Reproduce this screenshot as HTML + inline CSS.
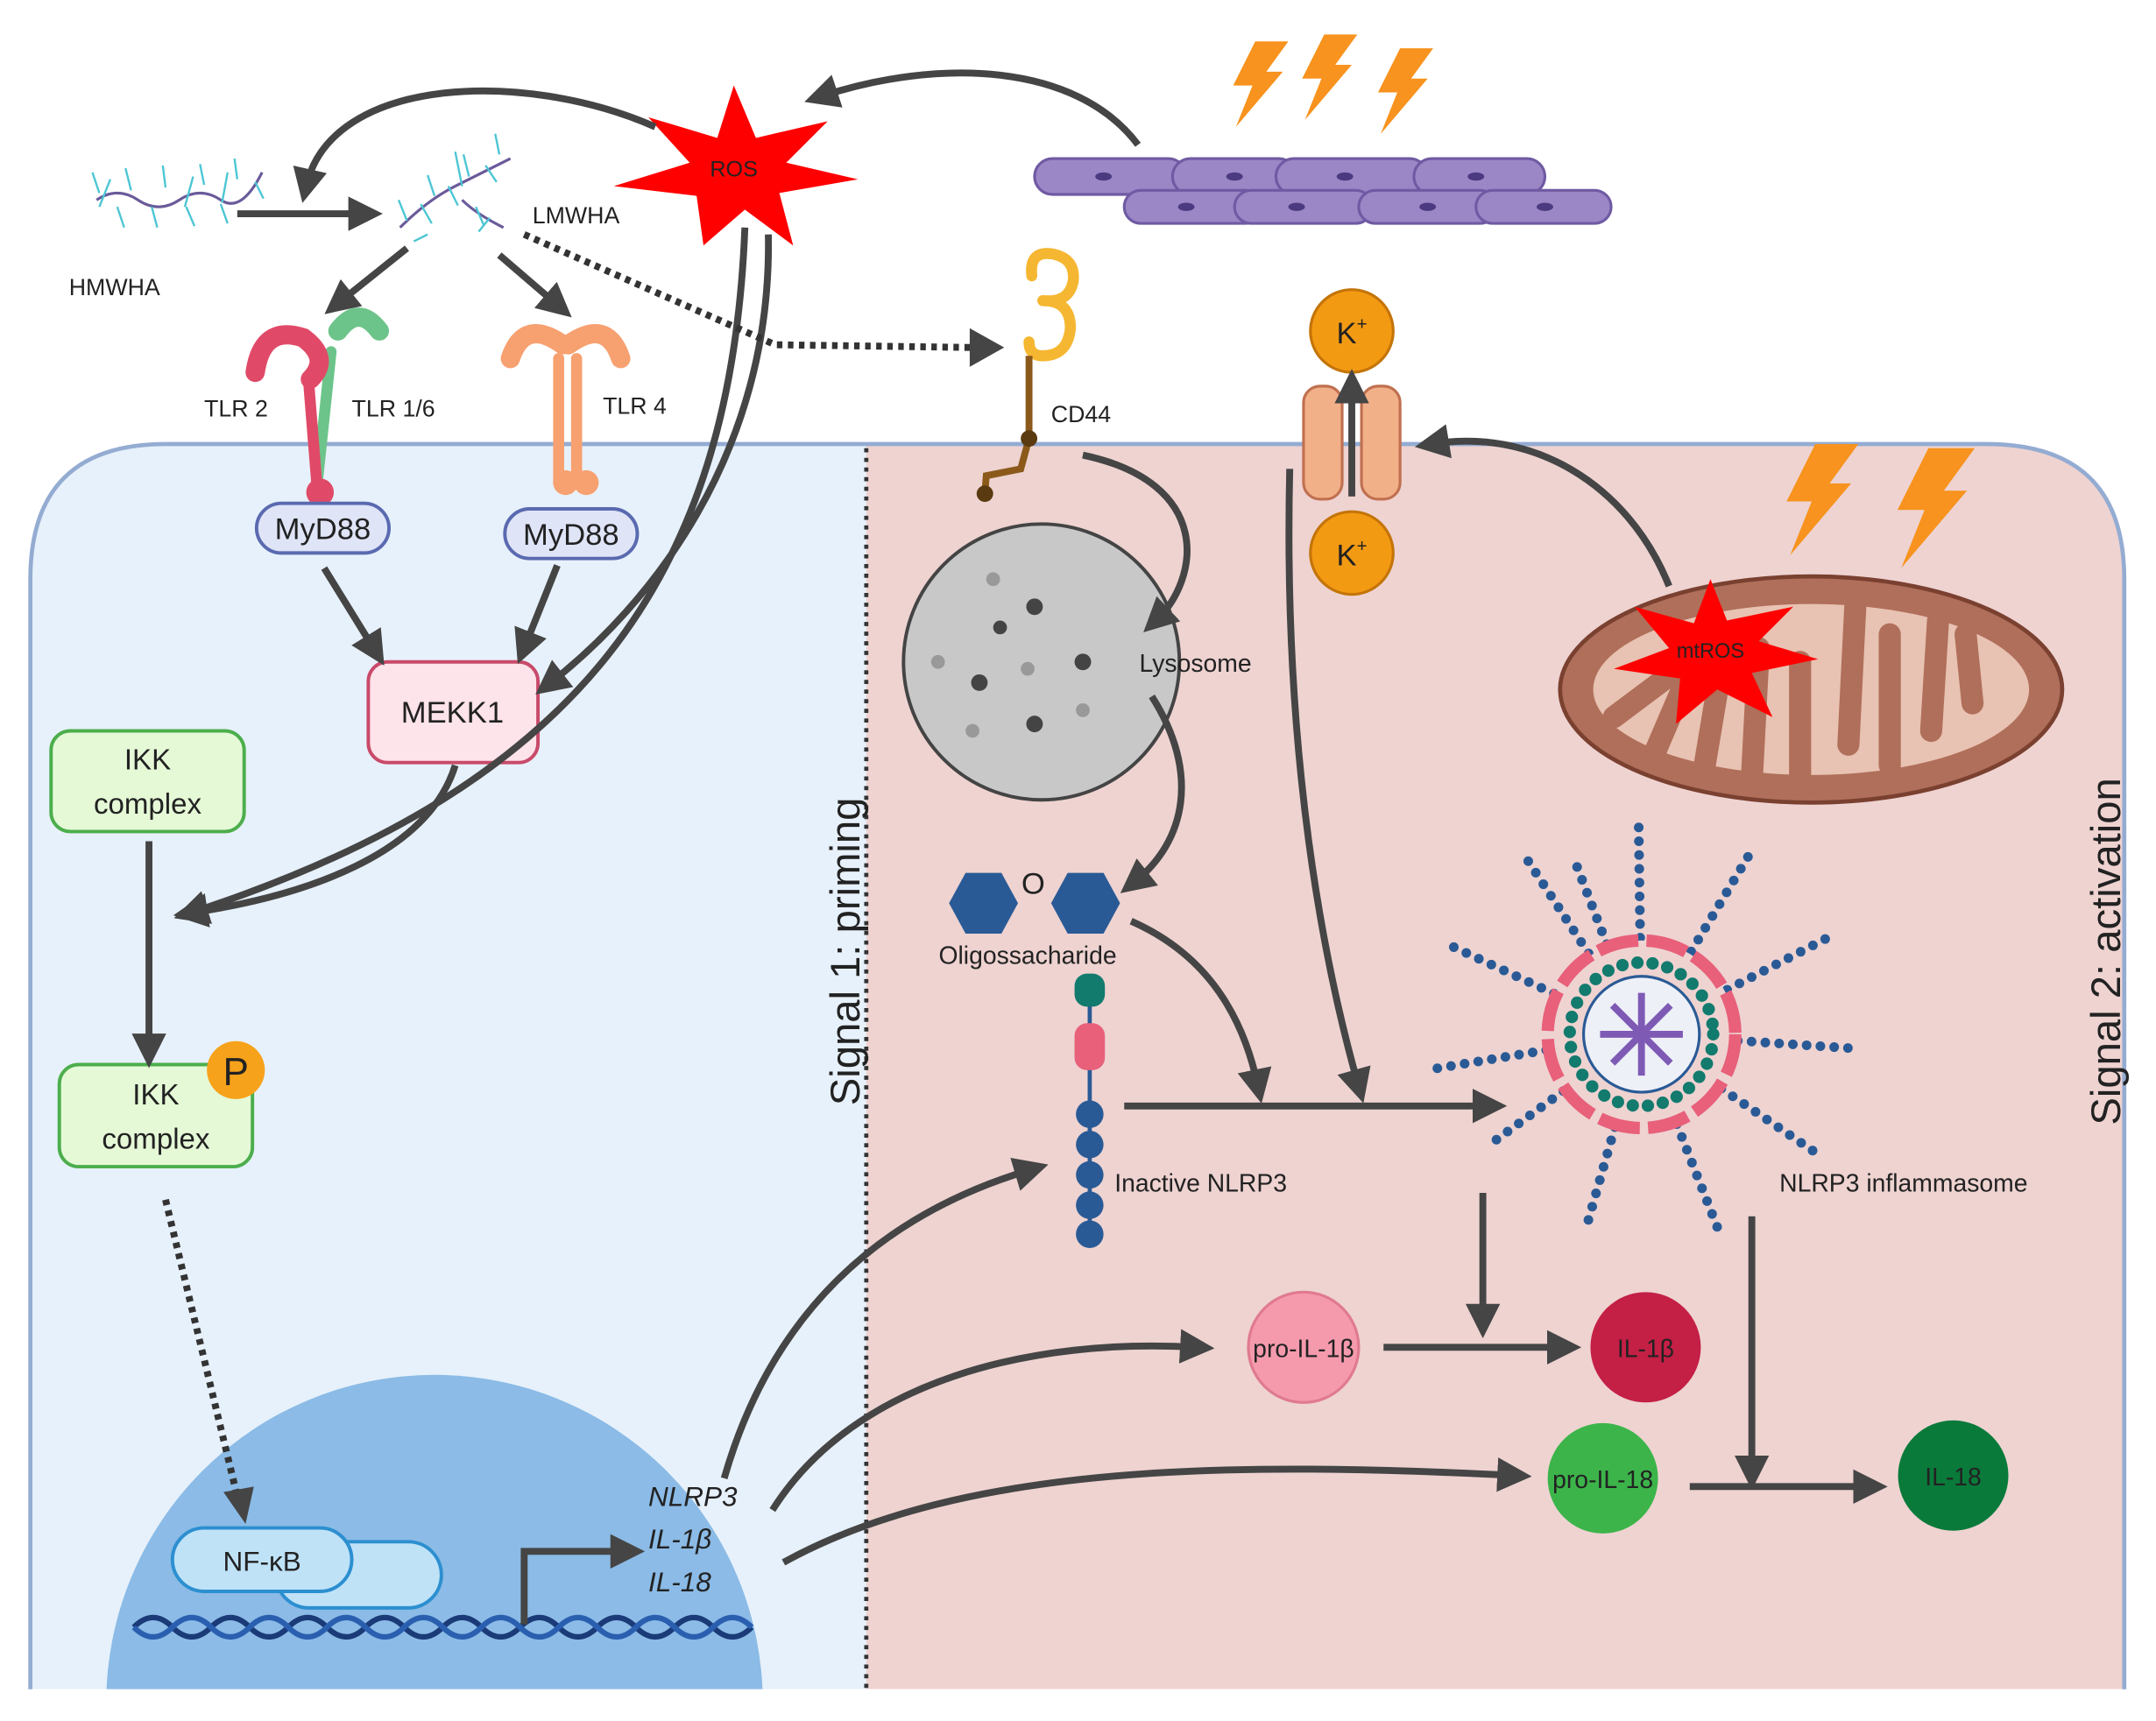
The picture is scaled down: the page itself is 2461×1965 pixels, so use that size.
<!DOCTYPE html>
<html><head><meta charset="utf-8"><style>
html,body{margin:0;padding:0;background:#fff;width:2461px;height:1965px;overflow:hidden}
svg{display:block}
text{font-family:"Liberation Sans",sans-serif;fill:#222}
</style></head><body>
<svg width="2461" height="1965" viewBox="0 0 1563 1248" xmlns="http://www.w3.org/2000/svg" style="display:block;width:2461px;height:1965px">
<defs>
<marker id="a" markerWidth="5" markerHeight="5" refX="2.5" refY="2.5" orient="auto" markerUnits="strokeWidth">
<path d="M0,0 L5,2.5 L0,5 z" fill="#454545"/></marker>
<clipPath id="cell"><path d="M22,1225 L22,420 Q22,322 120,322 L1440,322 Q1540,322 1540,420 L1540,1225 Z"/></clipPath>
<g id="bolt"><path d="M20,0 L44,0 L28,22 L40,22 L6,62 L18,32 L4,32 Z" fill="#f7931e"/></g>
</defs>
<rect width="1563" height="1248" fill="#fff"/>
<g clip-path="url(#cell)">
<rect x="22" y="322" width="606" height="903" fill="#e7f1fb"/>
<rect x="628" y="322" width="912" height="903" fill="#eed3d1"/>
<circle cx="315" cy="1235" r="238" fill="#8bbbe6"/>
</g>
<path d="M22,1225 L22,420 Q22,322 120,322 L1440,322 Q1540,322 1540,420 L1540,1225" fill="none" stroke="#94acd2" stroke-width="3"/>
<line x1="628" y1="325" x2="628" y2="1225" stroke="#333" stroke-width="3" stroke-dasharray="3 4"/>
<text transform="translate(623,690) rotate(-90)" font-size="30" text-anchor="middle">Signal 1: priming</text>
<text transform="translate(1537,690) rotate(-90)" font-size="30" text-anchor="middle">Signal 2: activation</text>

<g fill="#9b86c6" stroke="#6f5aa3" stroke-width="2">
<rect x="750" y="115" width="110" height="26" rx="13"/><rect x="850" y="115" width="90" height="26" rx="13"/>
<rect x="925" y="115" width="110" height="26" rx="13"/><rect x="1025" y="115" width="95" height="26" rx="13"/>
<rect x="815" y="138" width="100" height="24" rx="12"/><rect x="895" y="138" width="100" height="24" rx="12"/>
<rect x="985" y="138" width="100" height="24" rx="12"/><rect x="1070" y="138" width="98" height="24" rx="12"/>
</g>
<g fill="#4b3a80"><ellipse cx="800" cy="128" rx="6" ry="3"/><ellipse cx="895" cy="128" rx="6" ry="3"/><ellipse cx="975" cy="128" rx="6" ry="3"/><ellipse cx="1070" cy="128" rx="6" ry="3"/><ellipse cx="860" cy="150" rx="6" ry="3"/><ellipse cx="940" cy="150" rx="6" ry="3"/><ellipse cx="1035" cy="150" rx="6" ry="3"/><ellipse cx="1120" cy="150" rx="6" ry="3"/></g>
<use href="#bolt" x="890" y="30"/><use href="#bolt" x="940" y="25"/><use href="#bolt" x="995" y="35"/>
<use href="#bolt" transform="translate(1290,322) scale(1.3)"/><use href="#bolt" transform="translate(1370,325) scale(1.4)"/>

<polygon points="532,62 548,100 600,88 570,118 622,130 565,140 575,178 540,152 510,178 505,142 445,135 500,118 470,85 520,100" fill="#f00"/>
<text x="532" y="128" font-size="16" text-anchor="middle" fill="#222">ROS</text>

<g fill="none">
<path d="M70,145 q15,-10 30,0 t30,0 t30,0 t30,-20" stroke="#6a5a9a" stroke-width="2"/>
<path d="M72,140 l-5,-15 M85,150 l5,15 M95,138 l-4,-16 M110,150 l4,15 M120,136 l-2,-16 M135,150 l6,14 M148,134 l-3,-15 M160,148 l5,14 M172,130 l-2,-15 M185,132 l6,12 M80,130 l-8,20 M140,128 l-6,22 M165,125 l-4,22" stroke="#4cc6d4" stroke-width="1.5"/>
<path d="M290,165 q20,-20 40,-30 t40,-20" stroke="#6a5a9a" stroke-width="2"/>
<path d="M335,145 q10,10 30,20" stroke="#6a5a9a" stroke-width="2"/>
<path d="M295,160 l-6,-15 M305,148 l8,14 M315,142 l-5,-15 M325,135 l7,14 M340,128 l-4,-16 M352,120 l8,12 M362,112 l-3,-15 M345,150 l6,14 M355,158 l-8,10 M300,175 l10,-5 M330,110 l5,25" stroke="#4cc6d4" stroke-width="1.5"/>
</g>
<text x="50" y="214" font-size="17">HMWHA</text>
<text x="386" y="162" font-size="17">LMWHA</text>

<g fill="none" stroke-linecap="round">
<path d="M245,240 q15,-20 30,0" stroke="#6cc48a" stroke-width="14"/>
<line x1="240" y1="255" x2="230" y2="350" stroke="#6cc48a" stroke-width="8"/>
<path d="M185,270 q5,-35 35,-25 q20,15 5,30" stroke="#e04a68" stroke-width="14"/>
<line x1="224" y1="280" x2="230" y2="355" stroke="#e04a68" stroke-width="8"/>
<path d="M370,260 q10,-30 38,-10 M450,260 q-10,-30 -38,-10" stroke="#f7a070" stroke-width="14"/>
<line x1="405" y1="260" x2="405" y2="350" stroke="#f7a070" stroke-width="8"/>
<line x1="418" y1="260" x2="418" y2="350" stroke="#f7a070" stroke-width="8"/>
</g>
<circle cx="232" cy="357" r="10" fill="#e04a68"/><circle cx="410" cy="350" r="9" fill="#f7a070"/><circle cx="425" cy="350" r="9" fill="#f7a070"/>
<text x="148" y="302" font-size="17">TLR 2</text><text x="255" y="302" font-size="17">TLR 1/6</text><text x="437" y="300" font-size="17">TLR 4</text>

<rect x="186" y="365" width="96" height="36" rx="18" fill="#dfe4f7" stroke="#5a6ab0" stroke-width="2.5"/>
<text x="234" y="391" font-size="22" text-anchor="middle">MyD88</text>
<rect x="366" y="369" width="96" height="36" rx="18" fill="#dfe4f7" stroke="#5a6ab0" stroke-width="2.5"/>
<text x="414" y="395" font-size="22" text-anchor="middle">MyD88</text>
<rect x="267" y="480" width="123" height="73" rx="14" fill="#fde3ea" stroke="#c94a6a" stroke-width="2.5"/>
<text x="328" y="524" font-size="22" text-anchor="middle">MEKK1</text>
<rect x="37" y="530" width="140" height="73" rx="14" fill="#e5f9d7" stroke="#4cae4c" stroke-width="2.5"/>
<text x="107" y="558" font-size="21" text-anchor="middle">IKK</text><text x="107" y="590" font-size="21" text-anchor="middle">complex</text>
<rect x="43" y="772" width="140" height="74" rx="14" fill="#e5f9d7" stroke="#4cae4c" stroke-width="2.5"/>
<text x="113" y="801" font-size="21" text-anchor="middle">IKK</text><text x="113" y="833" font-size="21" text-anchor="middle">complex</text>
<circle cx="171" cy="776" r="21" fill="#f7a21b"/><text x="171" y="787" font-size="28" text-anchor="middle" fill="#333">P</text>

<rect x="200" y="1118" width="120" height="48" rx="24" fill="#bfe2f7" stroke="#2c8fd0" stroke-width="2.5"/>
<rect x="125" y="1108" width="130" height="46" rx="23" fill="#bfe2f7" stroke="#2c8fd0" stroke-width="2.5"/>
<text x="190" y="1139" font-size="20" text-anchor="middle">NF-κB</text>
<path d="M97,1180 q14,-14 28,0 t28,0 t28,0 t28,0 t28,0 t28,0 t28,0 t28,0 t28,0 t28,0 t28,0 t28,0 t28,0 t28,0 t28,0 t28,0" fill="none" stroke="#1b3a78" stroke-width="4"/>
<path d="M97,1180 q14,14 28,0 t28,0 t28,0 t28,0 t28,0 t28,0 t28,0 t28,0 t28,0 t28,0 t28,0 t28,0 t28,0 t28,0 t28,0 t28,0" fill="none" stroke="#2a5fb0" stroke-width="4"/>
<g font-size="20" font-style="italic"><text x="470" y="1092">NLRP3</text><text x="470" y="1123">IL-1β</text><text x="470" y="1154">IL-18</text></g>

<path d="M748,200 q-2,-18 14,-16 q18,3 16,20 q-3,16 -22,14 M756,218 q20,0 20,20 q-2,20 -20,20 q-10,0 -10,-10" fill="none" stroke="#f5b731" stroke-width="8" stroke-linecap="round"/>
<path d="M746,258 L746,318 L740,340 L715,345 L714,358" fill="none" stroke="#8b5a1b" stroke-width="5"/>
<circle cx="746" cy="318" r="6" fill="#5a3a10"/><circle cx="714" cy="358" r="6" fill="#5a3a10"/>
<text x="762" y="306" font-size="17">CD44</text>

<rect x="945" y="280" width="28" height="82" rx="12" fill="#f2b089" stroke="#c07050" stroke-width="2"/>
<rect x="987" y="280" width="28" height="82" rx="12" fill="#f2b089" stroke="#c07050" stroke-width="2"/>
<circle cx="980" cy="240" r="30" fill="#f39a13" stroke="#c47408" stroke-width="2"/>
<circle cx="980" cy="401" r="30" fill="#f39a13" stroke="#c47408" stroke-width="2"/>
<text x="980" y="249" font-size="22" text-anchor="middle">K<tspan font-size="13" dy="-10">+</tspan></text>
<text x="980" y="410" font-size="22" text-anchor="middle">K<tspan font-size="13" dy="-10">+</tspan></text>

<circle cx="755" cy="480" r="100" fill="#c8c8c8" stroke="#444" stroke-width="2.5"/>
<g fill="#444"><circle cx="750" cy="440" r="6"/><circle cx="710" cy="495" r="6"/><circle cx="785" cy="480" r="6"/><circle cx="750" cy="525" r="6"/><circle cx="725" cy="455" r="5"/></g>
<g fill="#999"><circle cx="720" cy="420" r="5"/><circle cx="680" cy="480" r="5"/><circle cx="745" cy="485" r="5"/><circle cx="785" cy="515" r="5"/><circle cx="705" cy="530" r="5"/></g>
<text x="826" y="487" font-size="18">Lysosome</text>

<polygon points="688,655 700,633 726,633 738,655 726,677 700,677" fill="#2a5a95"/>
<polygon points="762,655 774,633 800,633 812,655 800,677 774,677" fill="#2a5a95"/>
<text x="749" y="648" font-size="22" text-anchor="middle">O</text>
<text x="745" y="699" font-size="18" text-anchor="middle">Oligossacharide</text>

<line x1="790" y1="720" x2="790" y2="895" stroke="#2a5a95" stroke-width="3"/>
<rect x="779" y="706" width="22" height="24" rx="9" fill="#137a6e"/>
<rect x="779" y="742" width="22" height="34" rx="9" fill="#e8607a"/>
<g fill="#2a5a95"><circle cx="790" cy="808" r="10"/><circle cx="790" cy="830" r="10"/><circle cx="790" cy="852" r="10"/><circle cx="790" cy="874" r="10"/><circle cx="790" cy="895" r="10"/></g>
<text x="808" y="864" font-size="18">Inactive NLRP3</text>

<ellipse cx="1313" cy="500" rx="182" ry="82" fill="#b06f5a" stroke="#7a4030" stroke-width="3"/>
<ellipse cx="1313" cy="500" rx="158" ry="62" fill="#e8c2b2"/>
<path d="M1170,520 l40,-30 M1200,545 l30,-70 M1235,560 l15,-90 M1270,565 l5,-95 M1305,565 l0,-85 M1340,540 l5,-100 M1370,555 l0,-95 M1400,530 l5,-80 M1430,510 l-5,-50" stroke="#b06f5a" stroke-width="16" stroke-linecap="round"/>
<polygon points="1240,420 1252,450 1300,440 1275,465 1318,478 1270,488 1285,520 1245,500 1215,525 1218,492 1170,485 1210,470 1185,440 1228,452" fill="#f00"/>
<text x="1240" y="477" font-size="15" text-anchor="middle">mtROS</text>

<g stroke="#2a5a95" stroke-width="7" stroke-linecap="round" stroke-dasharray="0 10" fill="none">
<line x1="1190" y1="750" x2="1105" y2="620"/><line x1="1190" y1="750" x2="1188" y2="600"/><line x1="1190" y1="750" x2="1268" y2="620"/>
<line x1="1190" y1="750" x2="1325" y2="680"/><line x1="1190" y1="750" x2="1340" y2="760"/><line x1="1190" y1="750" x2="1315" y2="835"/>
<line x1="1190" y1="750" x2="1245" y2="890"/><line x1="1190" y1="750" x2="1150" y2="890"/><line x1="1190" y1="750" x2="1080" y2="830"/>
<line x1="1190" y1="750" x2="1040" y2="775"/><line x1="1190" y1="750" x2="1050" y2="685"/><line x1="1190" y1="750" x2="1140" y2="620"/>
</g>
<circle cx="1190" cy="750" r="68" fill="#eed3d1" stroke="#e8607a" stroke-width="9" stroke-dasharray="30 6"/>
<circle cx="1190" cy="750" r="52" fill="none" stroke="#137a6e" stroke-width="9" stroke-dasharray="0 11" stroke-linecap="round"/>
<circle cx="1190" cy="750" r="42" fill="#eef0f8" stroke="#2a5a95" stroke-width="2"/>
<g stroke="#7e5ab5" stroke-width="5"><line x1="1160" y1="750" x2="1220" y2="750"/><line x1="1190" y1="720" x2="1190" y2="780"/><line x1="1169" y1="729" x2="1211" y2="771"/><line x1="1211" y1="729" x2="1169" y2="771"/></g>
<text x="1290" y="864" font-size="18">NLRP3 inflammasome</text>

<circle cx="945" cy="977" r="40" fill="#f59aad" stroke="#e07a90" stroke-width="2"/><text x="945" y="984" font-size="18" text-anchor="middle">pro-IL-1β</text>
<circle cx="1193" cy="977" r="40" fill="#c41f45"/><text x="1193" y="984" font-size="18" text-anchor="middle" fill="#fff">IL-1β</text>
<circle cx="1162" cy="1072" r="40" fill="#3cb44a"/><text x="1162" y="1079" font-size="18" text-anchor="middle">pro-IL-18</text>
<circle cx="1416" cy="1070" r="40" fill="#0a7a3a"/><text x="1416" y="1077" font-size="18" text-anchor="middle" fill="#fff">IL-18</text>

<g fill="none" stroke="#454545" stroke-width="5" marker-end="url(#a)">
<path d="M475,92 C380,50 240,55 222,135"/>
<path d="M825,105 C780,45 680,42 595,70"/>
<path d="M172,155 L265,155"/>
<path d="M295,180 L245,220"/>
<path d="M362,185 L405,222"/>
<path d="M557,170 C560,330 470,440 398,496"/>
<path d="M235,412 L272,472"/>
<path d="M404,410 L380,470"/>
<path d="M540,165 C530,420 420,570 138,662"/>
<path d="M330,555 C310,620 220,650 138,662"/>
<path d="M108,610 L108,762"/>
<path d="M380,1178 L380,1125 L455,1125"/>
<path d="M525,1072 C560,950 640,880 748,848"/>
<path d="M560,1095 C620,1000 750,970 868,977"/>
<path d="M568,1133 C700,1060 900,1060 1098,1070"/>
<path d="M785,330 C880,350 870,420 838,450"/>
<path d="M835,505 C870,560 860,610 822,640"/>
<path d="M820,668 C870,690 900,730 912,788"/>
<path d="M935,340 C930,550 960,700 985,788"/>
<path d="M815,802 L1080,802"/>
<path d="M1210,425 C1180,350 1110,310 1038,322"/>
<path d="M1075,865 L1075,958"/>
<path d="M1003,977 L1134,977"/>
<path d="M1270,882 L1270,1068"/>
<path d="M1225,1078 L1356,1078"/>
<path d="M980,360 L980,280"/>
</g>
<g fill="none" stroke="#333" stroke-width="5" stroke-dasharray="4 4">
<path d="M380,170 L562,250 L705,252"/>
<path d="M120,870 L172,1085"/>
</g>
<path d="M703,238 L728,252 L703,266 Z" fill="#454545"/>
<path d="M162,1082 L178,1105 L184,1078 Z" fill="#454545"/>
</svg>
</body></html>
